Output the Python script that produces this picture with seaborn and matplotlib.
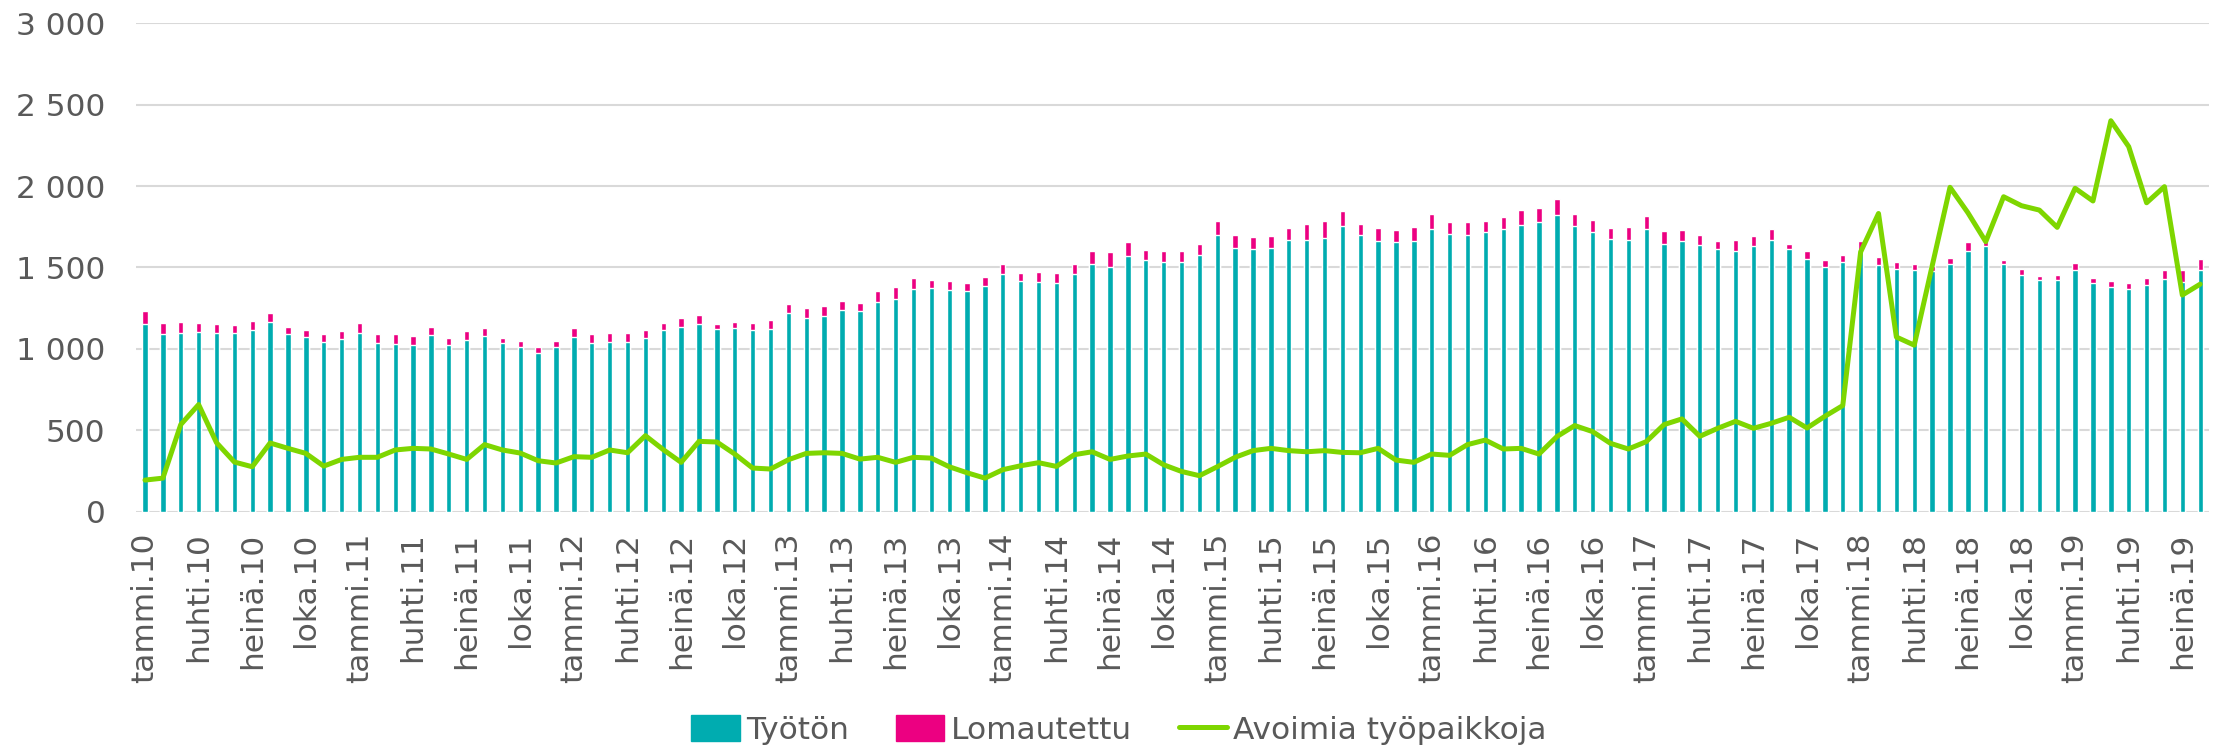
import numpy as np
import pandas as pd
import seaborn as sns
import matplotlib.pyplot as plt
from matplotlib.patches import Patch
from matplotlib.lines import Line2D
from matplotlib.ticker import FuncFormatter

# kuukausittaiset arvot tammi.10 - elo.19
months = ['tammi', 'helmi', 'maalis', 'huhti', 'touko', 'kesä',
          'heinä', 'elo', 'syys', 'loka', 'marras', 'joulu']
labels = [f'{months[i % 12]}.{10 + i // 12}' for i in range(116)]

tyoton = [1150, 1090, 1096, 1102, 1098, 1096, 1117, 1164, 1090, 1070, 1043, 1057,
          1098, 1035, 1031, 1022, 1082, 1020, 1055, 1076, 1035, 1008, 975, 1010,
          1072, 1035, 1039, 1039, 1068, 1113, 1135, 1154, 1119, 1125, 1113, 1121,
          1217, 1189, 1203, 1240, 1230, 1285, 1304, 1365, 1371, 1359, 1357, 1384,
          1462, 1415, 1412, 1406, 1462, 1521, 1505, 1571, 1546, 1534, 1536, 1573,
          1698, 1622, 1614, 1622, 1669, 1669, 1683, 1757, 1696, 1663, 1653, 1663,
          1737, 1704, 1698, 1718, 1733, 1759, 1776, 1823, 1757, 1716, 1673, 1671,
          1733, 1646, 1661, 1636, 1610, 1603, 1634, 1671, 1610, 1552, 1505, 1536,
          1605, 1517, 1490, 1483, 1479, 1520, 1602, 1633, 1518, 1455, 1420, 1420,
          1486, 1402, 1377, 1365, 1391, 1426, 1412, 1486]

lomautettu = [80, 70, 70, 54, 54, 52, 55, 55, 41, 45, 49, 52,
              60, 57, 59, 54, 49, 46, 54, 53, 33, 39, 35, 39,
              53, 53, 55, 55, 47, 47, 52, 51, 31, 41, 43, 53,
              56, 63, 58, 51, 49, 68, 78, 68, 54, 60, 45, 55,
              57, 53, 58, 60, 59, 78, 88, 84, 59, 65, 67, 71,
              86, 76, 74, 72, 76, 95, 101, 91, 68, 76, 76, 86,
              92, 74, 78, 70, 78, 91, 90, 95, 68, 78, 68, 76,
              80, 76, 66, 60, 53, 64, 60, 64, 34, 49, 39, 43,
              58, 45, 42, 37, 31, 37, 56, 35, 27, 33, 27, 33,
              41, 34, 39, 37, 41, 57, 74, 65]

avoimia = [193, 205, 534, 657, 423, 304, 275, 421, 388, 357, 279, 320,
           333, 333, 378, 388, 384, 353, 320, 411, 378, 359, 312, 298,
           337, 333, 378, 361, 466, 380, 302, 431, 427, 353, 267, 261,
           318, 357, 361, 357, 322, 333, 302, 333, 328, 275, 238, 205,
           257, 281, 300, 277, 349, 367, 320, 341, 353, 287, 246, 220,
           275, 333, 374, 388, 374, 367, 374, 363, 361, 388, 316, 302,
           353, 345, 411, 439, 384, 388, 353, 460, 528, 491, 419, 384,
           429, 534, 569, 462, 511, 554, 511, 542, 579, 513, 585, 651,
           1595, 1831, 1072, 1022, 1508, 1992, 1836, 1658, 1934, 1879, 1852, 1746,
           1986, 1908, 2401, 2242, 1897, 1996, 1330, 1397]

teal = '#00ACB0'
pink = '#EC0081'
green = '#7ED600'
txt = '#595959'

df = pd.DataFrame({'kk': labels, 'tyoton': tyoton, 'lomautettu': lomautettu,
                   'avoimia': avoimia})
df['yht'] = df['tyoton'] + df['lomautettu']
df['x'] = np.arange(len(df))

sns.set_style('white')
plt.rcParams['font.family'] = ['DejaVu Sans']

fig = plt.figure(figsize=(22.16, 7.5), dpi=100)
ax = fig.add_axes([0.0614, 0.318, 0.9355, 0.651])

# pinottu palkki: ensin summa pinkillä, sitten työttömät päälle
sns.barplot(data=df, x='kk', y='yht', color=pink, width=0.3, saturation=1,
            ax=ax, zorder=2, order=labels)
sns.barplot(data=df, x='kk', y='tyoton', color=teal, width=0.3, saturation=1,
            ax=ax, zorder=3, order=labels)
sns.lineplot(data=df, x='x', y='avoimia', color=green, linewidth=3.6, ax=ax,
             zorder=4, solid_joinstyle='round', solid_capstyle='round')

ax.set_xlim(-0.5, len(df) - 0.5)
ax.set_ylim(0, 3000)
ax.set_yticks(np.arange(0, 3001, 500))
ax.yaxis.set_major_formatter(FuncFormatter(lambda v, p: f'{int(v):,}'.replace(',', ' ')))
ax.set_xticks(np.arange(0, len(df), 3))
ax.set_xticklabels(labels[::3], rotation=90)
ax.set_xlabel('')
ax.set_ylabel('')
ax.grid(axis='y', color='#D9D9D9', linewidth=1.5, zorder=0)
ax.set_axisbelow(True)
for s in ax.spines.values():
    s.set_visible(False)
ax.tick_params(axis='both', length=0, labelsize=22.5, labelcolor=txt)
ax.tick_params(axis='x', pad=15)
ax.tick_params(axis='y', pad=22)

handles = [Patch(color=teal, label='Työtön'),
           Patch(color=pink, label='Lomautettu'),
           Line2D([], [], color=green, linewidth=3.6, label='Avoimia työpaikkoja')]
fig.legend(handles=handles, loc='lower center', bbox_to_anchor=(0.505, -0.031),
           ncol=3, frameon=False, fontsize=22.5, labelcolor=txt,
           handlelength=1.55, handleheight=0.9, handletextpad=0.2, columnspacing=1.5)

fig.savefig('out.png', dpi=100)
